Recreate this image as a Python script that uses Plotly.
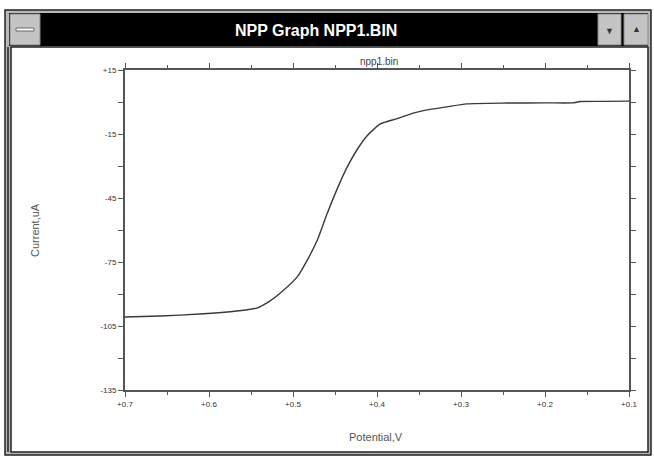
import plotly.graph_objects as go

# Data (potential magnitude in V, current in uA)
potential = [0.700, 0.658, 0.611, 0.567, 0.543, 0.531, 0.515, 0.495, 0.483, 0.471,
             0.460, 0.448, 0.436, 0.424, 0.412, 0.396, 0.376, 0.357, 0.342, 0.317,
             0.293, 0.245, 0.200, 0.167, 0.158, 0.130, 0.100]
current = [-100.8, -100.3, -99.4, -98.0, -96.6, -94.2, -89.5, -82.0, -74.1, -64.7,
           -53.0, -41.3, -30.9, -22.5, -15.9, -10.3, -7.8, -5.2, -3.8, -2.3,
           -0.9, -0.5, -0.4, -0.4, 0.2, 0.3, 0.4]

x_tickvals = [0.7, 0.6, 0.5, 0.4, 0.3, 0.2, 0.1]
x_ticktext = ["+0.7", "+0.6", "+0.5", "+0.4", "+0.3", "+0.2", "+0.1"]
y_tickvals = [15, -15, -45, -75, -105, -135]
y_ticktext = ["+15", "-15", "-45", "-75", "-105", "-135"]

W, H = 654, 457
L, R, T, B = 125, 629, 70, 390


def px(x):
    return (x - L) / (R - L)


def py(y):
    return (B - y) / (B - T)


fig = go.Figure()
fig.add_trace(go.Scatter(x=potential, y=current, mode="lines",
                         line=dict(color="#3a3a3a", width=1.4, shape="spline", smoothing=0.6),
                         hoverinfo="skip", showlegend=False))

shapes = []
# window frame
shapes.append(dict(type="rect", xref="paper", yref="paper", layer="below",
                   x0=px(5), x1=px(651), y0=py(455), y1=py(10),
                   fillcolor="#b8b8b8", line=dict(color="#222", width=1.5)))
# title bar
shapes.append(dict(type="rect", xref="paper", yref="paper", layer="below",
                   x0=px(9), x1=px(648), y0=py(46), y1=py(13),
                   fillcolor="#000000", line=dict(width=0)))
# client area
shapes.append(dict(type="rect", xref="paper", yref="paper", layer="below",
                   x0=px(11), x1=px(648), y0=py(452), y1=py(47),
                   fillcolor="#ffffff", line=dict(color="#222", width=1.5)))
# left double edge
shapes.append(dict(type="line", xref="paper", yref="paper", layer="below",
                   x0=px(8), x1=px(8), y0=py(452), y1=py(47),
                   line=dict(color="#222", width=1.5)))
# buttons
shapes.append(dict(type="rect", xref="paper", yref="paper", layer="below",
                   x0=px(10), x1=px(40), y0=py(45), y1=py(14),
                   fillcolor="#c4c4c4", line=dict(color="#888", width=1)))
shapes.append(dict(type="rect", xref="paper", yref="paper", layer="below",
                   x0=px(16), x1=px(34), y0=py(31), y1=py(28),
                   fillcolor="#ffffff", line=dict(color="#666", width=1)))
shapes.append(dict(type="rect", xref="paper", yref="paper", layer="below",
                   x0=px(598), x1=px(621), y0=py(45), y1=py(14),
                   fillcolor="#c4c4c4", line=dict(color="#888", width=1)))
shapes.append(dict(type="rect", xref="paper", yref="paper", layer="below",
                   x0=px(624), x1=px(648), y0=py(45), y1=py(14),
                   fillcolor="#c4c4c4", line=dict(color="#888", width=1)))

annotations = [
    dict(text="<b>NPP Graph NPP1.BIN</b>", xref="paper", yref="paper",
         x=px(316), y=py(30), showarrow=False, xanchor="center", yanchor="middle",
         font=dict(family="Liberation Sans, Arial", size=16, color="#ffffff")),
    dict(text="▼", xref="paper", yref="paper", x=px(609.5), y=py(30), showarrow=False,
         xanchor="center", yanchor="middle", font=dict(size=9, color="#333")),
    dict(text="▲", xref="paper", yref="paper", x=px(636), y=py(29), showarrow=False,
         xanchor="center", yanchor="middle", font=dict(size=9, color="#333")),
    dict(text="npp1.bin", xref="paper", yref="paper", x=px(379), y=py(61),
         showarrow=False, xanchor="center", yanchor="middle",
         font=dict(family="Liberation Sans, Arial", size=10, color="#444")),
    dict(text="Potential,V", xref="paper", yref="paper", x=px(376), y=py(437),
         showarrow=False, xanchor="center", yanchor="middle",
         font=dict(family="Liberation Sans, Arial", size=11, color="#555")),
    dict(text="Current,uA", xref="paper", yref="paper", x=px(35), y=py(230),
         showarrow=False, textangle=-90, xanchor="center", yanchor="middle",
         font=dict(family="Liberation Sans, Arial", size=11, color="#555")),
]

tickfont = dict(family="Liberation Sans, Arial", size=8, color="#333")

fig.update_layout(
    width=W, height=H,
    margin=dict(l=L, r=W - R, t=T, b=H - B, pad=0),
    paper_bgcolor="#ffffff", plot_bgcolor="rgba(0,0,0,0)",
    shapes=shapes, annotations=annotations,
    xaxis=dict(range=[0.7, 0.1], tickvals=x_tickvals, ticktext=x_ticktext,
               showgrid=False, zeroline=False, showline=True, linecolor="#555",
               linewidth=2, mirror="allticks", ticks="outside", ticklen=5,
               tickcolor="#555", tickwidth=1, tickfont=tickfont,
               minor=dict(dtick=0.05, ticks="outside", ticklen=3, tickcolor="#555",
                          showgrid=False)),
    yaxis=dict(range=[-135, 15], tickvals=y_tickvals, ticktext=y_ticktext,
               showgrid=False, zeroline=False, showline=True, linecolor="#555",
               linewidth=2, mirror="allticks", ticks="outside", ticklen=5,
               tickcolor="#555", tickwidth=1, tickfont=tickfont,
               minor=dict(tickvals=[0, -30, -60, -90, -120], ticks="outside",
                          ticklen=5, tickcolor="#555", showgrid=False)),
)

fig.write_html("out.html", config={"displayModeBar": False, "staticPlot": True},
               post_script="document.body.style.margin='0';document.body.style.padding='0';")
